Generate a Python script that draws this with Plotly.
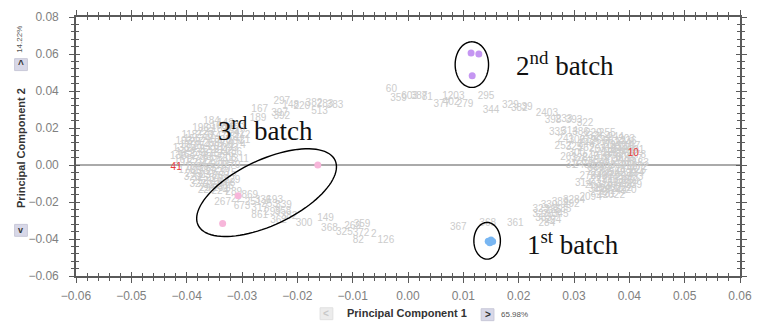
import numpy as np
import plotly.graph_objects as go

# ---- figure geometry -------------------------------------------------------
W, H = 762, 322
MARGIN = dict(l=76, r=10, t=15, b=46)
X_RANGE = [-0.06, 0.06]
Y_RANGE = [-0.06, 0.08]
PX_PER_X = (W - MARGIN["l"] - MARGIN["r"]) / (X_RANGE[1] - X_RANGE[0])
PX_PER_Y = (H - MARGIN["t"] - MARGIN["b"]) / (Y_RANGE[1] - Y_RANGE[0])

# ---- sample scores (PC1, PC2, sample id) ------------------------------------
left_cluster = [
    (-0.0355, 0.0235, "184"), (-0.0330, 0.0225, "142"), (-0.0310, 0.0215, "263"),
    (-0.0309, 0.0171, "742"), (-0.0375, 0.0195, "196"), (-0.0350, 0.0190, "218"),
    (-0.0322, 0.0185, "275"), (-0.0300, 0.0160, "212"), (-0.0395, 0.0160, "118"),
    (-0.0368, 0.0158, "230"), (-0.0343, 0.0152, "147"), (-0.0318, 0.0148, "331"),
    (-0.0295, 0.0135, "21"), (-0.0405, 0.0125, "193"), (-0.0380, 0.0122, "287"),
    (-0.0355, 0.0118, "258"), (-0.0330, 0.0112, "306"), (-0.0308, 0.0105, "174"),
    (-0.0410, 0.0090, "135"), (-0.0387, 0.0085, "249"), (-0.0362, 0.0080, "322"),
    (-0.0338, 0.0076, "211"), (-0.0315, 0.0070, "286"), (-0.0415, 0.0045, "136"),
    (-0.0400, 0.0050, "163"), (-0.0375, 0.0045, "238"), (-0.0350, 0.0040, "357"),
    (-0.0325, 0.0035, "205"), (-0.0302, 0.0028, "311"), (-0.0395, 0.0010, "152"),
    (-0.0368, 0.0005, "244"), (-0.0342, 0.0000, "219"), (-0.0318, -0.0005, "270"),
    (-0.0400, -0.0030, "176"), (-0.0375, -0.0035, "298"), (-0.0350, -0.0040, "262"),
    (-0.0325, -0.0045, "315"), (-0.0390, -0.0070, "320"), (-0.0365, -0.0075, "255"),
    (-0.0340, -0.0080, "203"), (-0.0318, -0.0085, "229"), (-0.0380, -0.0105, "327"),
    (-0.0355, -0.0110, "312"), (-0.0330, -0.0115, "266"), (-0.0365, -0.0140, "226"),
    (-0.0340, -0.0145, "224"), (-0.0315, -0.0150, "289"),
    (-0.0390, 0.0140, "155"), (-0.0362, 0.0138, "240"), (-0.0335, 0.0132, "309"),
    (-0.0312, 0.0125, "281"), (-0.0398, 0.0105, "170"), (-0.0372, 0.0100, "254"),
    (-0.0346, 0.0096, "201"), (-0.0322, 0.0090, "293"), (-0.0405, 0.0068, "145"),
    (-0.0380, 0.0064, "233"), (-0.0356, 0.0060, "318"), (-0.0330, 0.0055, "246"),
    (-0.0408, 0.0025, "161"), (-0.0382, 0.0022, "279"), (-0.0356, 0.0020, "227"),
    (-0.0330, 0.0015, "304"), (-0.0388, -0.0012, "188"), (-0.0362, -0.0018, "265"),
    (-0.0336, -0.0022, "210"), (-0.0388, -0.0050, "299"), (-0.0362, -0.0056, "237"),
    (-0.0338, -0.0060, "283"), (-0.0376, -0.0090, "252"), (-0.0350, -0.0095, "316"),
    (-0.0327, -0.0098, "208"), (-0.0362, -0.0125, "291"), (-0.0338, -0.0128, "231"),
    (-0.0342, 0.0210, "168"), (-0.0365, 0.0175, "223"), (-0.0318, 0.0200, "257"),
]

lower_left_arm = [
    (-0.0335, -0.0200, "267"), (-0.0310, -0.0185, "22"), (-0.0286, -0.0166, "869"),
    (-0.0300, -0.0225, "673"), (-0.0280, -0.0205, "251"), (-0.0262, -0.0190, "336"),
    (-0.0241, -0.0193, "193"), (-0.0268, -0.0235, "317"), (-0.0250, -0.0215, "253"),
    (-0.0225, -0.0218, "339"), (-0.0268, -0.0275, "861"), (-0.0245, -0.0255, "299"),
    (-0.0226, -0.0250, "358"), (-0.0234, -0.0300, "362"), (-0.0215, -0.0280, "382"),
]

lower_middle = [
    (-0.0188, -0.0316, "300"), (-0.0149, -0.0289, "149"), (-0.0142, -0.0343, "368"),
    (-0.0115, -0.0365, "325"), (-0.0100, -0.0330, "269"), (-0.0083, -0.0321, "359"),
    (-0.0085, -0.0372, "372"), (-0.0062, -0.0375, "2"), (-0.0090, -0.0407, "82"),
    (-0.0040, -0.0407, "126"),
]

upper_arc = [
    (-0.0268, 0.0300, "167"), (-0.0271, 0.0252, "189"), (-0.0228, 0.0345, "297"),
    (-0.0212, 0.0322, "148"), (-0.0192, 0.0318, "220"), (-0.0170, 0.0330, "382"),
    (-0.0150, 0.0325, "283"), (-0.0132, 0.0320, "383"), (-0.0160, 0.0290, "513"),
    (-0.0232, 0.0280, "397"), (-0.0228, 0.0262, "392"),
    (-0.0030, 0.0407, "60"), (-0.0017, 0.0360, "359"), (0.0003, 0.0372, "603"),
    (0.0020, 0.0372, "387"), (0.0035, 0.0365, "81"), (0.0061, 0.0327, "377"),
    (0.0082, 0.0368, "1203"), (0.0078, 0.0340, "402"), (0.0103, 0.0327, "279"),
    (0.0141, 0.0370, "295"), (0.0150, 0.0295, "344"), (0.0185, 0.0321, "329"),
    (0.0201, 0.0305, "382"), (0.0215, 0.0310, "39"), (0.0251, 0.0279, "2403"),
]

right_cluster = [
    (0.0262, 0.0240, "398"), (0.0282, 0.0245, "233"), (0.0300, 0.0238, "393"),
    (0.0320, 0.0225, "322"), (0.0270, 0.0178, "335"), (0.0292, 0.0182, "314"),
    (0.0312, 0.0175, "386"), (0.0335, 0.0172, "229"), (0.0360, 0.0170, "255"),
    (0.0285, 0.0140, "241"), (0.0305, 0.0135, "306"), (0.0325, 0.0130, "219"),
    (0.0345, 0.0128, "266"), (0.0368, 0.0125, "311"), (0.0388, 0.0118, "274"),
    (0.0375, 0.0150, "244"), (0.0395, 0.0140, "203"), (0.0280, 0.0098, "252"),
    (0.0300, 0.0092, "325"), (0.0322, 0.0090, "262"), (0.0342, 0.0085, "207"),
    (0.0362, 0.0082, "318"), (0.0382, 0.0078, "243"), (0.0400, 0.0072, "199"),
    (0.0380, 0.0100, "332"), (0.0405, 0.0100, "197"), (0.0290, 0.0040, "261"),
    (0.0310, 0.0035, "328"), (0.0330, 0.0040, "245"), (0.0350, 0.0045, "213"),
    (0.0370, 0.0040, "276"), (0.0390, 0.0035, "301"), (0.0408, 0.0030, "187"),
    (0.0415, 0.0050, "178"), (0.0375, 0.0060, "289"), (0.0355, 0.0065, "212"),
    (0.0295, 0.0000, "31"), (0.0318, -0.0002, "2432"), (0.0340, 0.0005, "296"),
    (0.0360, 0.0000, "234"), (0.0380, -0.0005, "319"), (0.0400, -0.0008, "268"),
    (0.0395, 0.0015, "238"), (0.0375, -0.0025, "271"), (0.0340, -0.0020, "309"),
    (0.0415, -0.0030, "226"), (0.0338, -0.0040, "227"), (0.0358, -0.0038, "305"),
    (0.0378, -0.0045, "248"), (0.0398, -0.0048, "290"), (0.0355, -0.0060, "320"),
    (0.0410, -0.0065, "303"), (0.0317, -0.0102, "314"), (0.0345, -0.0085, "273"),
    (0.0365, -0.0080, "216"), (0.0385, -0.0085, "330"), (0.0402, -0.0090, "259"),
    (0.0355, -0.0105, "315"), (0.0395, -0.0105, "258"), (0.0350, -0.0125, "284"),
    (0.0370, -0.0120, "308"), (0.0390, -0.0125, "222"), (0.0380, -0.0145, "249"),
    (0.0345, -0.0150, "252"), (0.0360, -0.0160, "281"), (0.0372, -0.0166, "2022"),
    (0.0352, 0.0150, "264"), (0.0398, 0.0125, "236"), (0.0370, 0.0105, "204"),
    (0.0392, 0.0095, "310"), (0.0352, 0.0105, "277"), (0.0412, 0.0080, "191"),
    (0.0365, 0.0062, "251"), (0.0395, 0.0055, "286"), (0.0345, 0.0025, "217"),
    (0.0365, 0.0020, "302"), (0.0385, 0.0015, "256"), (0.0420, 0.0010, "183"),
    (0.0350, -0.0015, "295"), (0.0390, -0.0025, "214"), (0.0418, -0.0015, "272"),
    (0.0345, -0.0060, "240"), (0.0368, -0.0058, "326"), (0.0390, -0.0065, "209"),
    (0.0412, -0.0045, "284"), (0.0335, -0.0110, "267"), (0.0375, -0.0100, "317"),
    (0.0408, -0.0110, "239"), (0.0362, -0.0135, "293"), (0.0398, -0.0140, "220"),
    (0.0340, -0.0130, "311"), (0.0322, 0.0110, "246"), (0.0305, 0.0060, "300"),
    (0.0318, 0.0020, "261"), (0.0325, -0.0060, "278"), (0.0330, 0.0155, "232"),
]

lower_right_arm = [
    (0.0330, -0.0175, "2094"), (0.0300, -0.0190, "3284"), (0.0275, -0.0205, "389"),
    (0.0295, -0.0215, "292"), (0.0255, -0.0220, "330"), (0.0240, -0.0240, "323"),
    (0.0262, -0.0245, "285"), (0.0280, -0.0240, "385"), (0.0235, -0.0265, "32"),
    (0.0258, -0.0270, "283"), (0.0275, -0.0265, "345"), (0.0245, -0.0290, "383"),
    (0.0262, -0.0300, "294"), (0.0251, -0.0316, "284"), (0.0194, -0.0316, "361"),
    (0.0091, -0.0337, "367"), (0.0144, -0.0316, "368"),
]

# highlighted outlier ids
outlier_pc1 = [-0.0419, 0.0407]
outlier_pc2 = [-0.0016, 0.0064]
outlier_id = ["41", "10"]

# batch reference samples
batch1_pc1 = [0.0145, 0.0150, 0.0148, 0.0153]
batch1_pc2 = [-0.0412, -0.0405, -0.0420, -0.0413]
batch2_pc1 = [0.0114, 0.0128, 0.0116]
batch2_pc2 = [0.0605, 0.0600, 0.0482]
batch3_pc1 = [-0.0163, -0.0307, -0.0335]
batch3_pc2 = [0.0000, -0.0166, -0.0316]

groups = [left_cluster, lower_left_arm, lower_middle, upper_arc,
          right_cluster, lower_right_arm]
all_pts = [p for g in groups for p in g]
pc1 = [p[0] for p in all_pts]
pc2 = [p[1] for p in all_pts]
ids = [p[2] for p in all_pts]

fig = go.Figure()

fig.add_trace(go.Scatter(
    x=pc1, y=pc2, text=ids, mode="text",
    textfont=dict(family="Liberation Sans, Arial", size=10, color="#cccccc"),
    hoverinfo="skip", showlegend=False))

fig.add_trace(go.Scatter(
    x=outlier_pc1, y=outlier_pc2, text=outlier_id, mode="text",
    textfont=dict(family="Liberation Sans, Arial", size=10, color="#e83c3c"),
    hoverinfo="skip", showlegend=False))

for xs, ys, col in [(batch1_pc1, batch1_pc2, "#78b6f2"),
                    (batch2_pc1, batch2_pc2, "#c596f2"),
                    (batch3_pc1, batch3_pc2, "#f7b6da")]:
    fig.add_trace(go.Scatter(x=xs, y=ys, mode="markers",
                             marker=dict(size=7, color=col, line=dict(width=0)),
                             hoverinfo="skip", showlegend=False))

# invisible trace that carries the overlay axes (inward tick marks)
fig.add_trace(go.Scatter(x=[None], y=[None], xaxis="x2", yaxis="y2",
                         showlegend=False, hoverinfo="skip"))


def ellipse_path(cx, cy, a_px, b_px, deg):
    t = np.linspace(0, 2 * np.pi, 97)
    th = np.radians(deg)
    dx = a_px * np.cos(t) * np.cos(th) - b_px * np.sin(t) * np.sin(th)
    dy = a_px * np.cos(t) * np.sin(th) + b_px * np.sin(t) * np.cos(th)
    xs = cx + dx / PX_PER_X
    ys = cy + dy / PX_PER_Y
    return "M " + " L ".join(f"{x:.6f},{y:.6f}" for x, y in zip(xs, ys)) + " Z"


ring = dict(color="black", width=1.4)
shapes = [
    dict(type="path", xref="x", yref="y", line=ring,
         path=ellipse_path(0.01154, 0.05427, 17, 23, 0)),
    dict(type="path", xref="x", yref="y", line=ring,
         path=ellipse_path(0.01430, -0.04096, 13.5, 18.5, 0)),
    dict(type="path", xref="x", yref="y", line=ring,
         path=ellipse_path(-0.02556, -0.01494, 77, 33, 25)),
]

# small navigation buttons next to the axis titles (paper coordinates)
PW = W - MARGIN["l"] - MARGIN["r"]
PH = H - MARGIN["t"] - MARGIN["b"]


def px2paper(px, py):
    return (px - MARGIN["l"]) / PW, (H - MARGIN["b"] - py) / PH


def button(cx, cy, fill, line_col):
    x0, y0 = px2paper(cx - 6.5, cy + 6)
    x1, y1 = px2paper(cx + 6.5, cy - 6)
    return dict(type="rect", xref="paper", yref="paper", x0=x0, y0=y0,
                x1=x1, y1=y1, fillcolor=fill, line=dict(color=line_col, width=1),
                layer="above")


shapes += [button(331, 314, "#ececec", "#e0e0e0"),
           button(495, 315, "#d8d8e8", "#c8c8d8"),
           button(20, 63, "#d8d8e8", "#c8c8d8"),
           button(20, 230, "#d8d8e8", "#c8c8d8")]


def note(px, py, text, size, color="#333333", bold=False, angle=0,
         family="Liberation Sans, Arial"):
    x, y = px2paper(px, py)
    if bold:
        text = f"<b>{text}</b>"
    return dict(x=x, y=y, xref="paper", yref="paper", text=text, showarrow=False,
                textangle=angle, font=dict(family=family, size=size, color=color),
                xanchor="center", yanchor="middle")


serif = "Liberation Serif, Times New Roman, serif"
annotations = [
    dict(x=0.0284, y=0.0548, xref="x", yref="y", text="2<sup>nd</sup> batch",
         showarrow=False, font=dict(family=serif, size=27, color="#111111")),
    dict(x=-0.0258, y=0.0197, xref="x", yref="y", text="3<sup>rd</sup> batch",
         showarrow=False, font=dict(family=serif, size=27, color="#111111")),
    dict(x=0.0298, y=-0.0420, xref="x", yref="y", text="1<sup>st</sup> batch",
         showarrow=False, font=dict(family=serif, size=27, color="#111111")),
    note(413, 313, "Principal Component 1", 11, bold=True),
    note(20, 147, "Principal Component 2", 11, bold=True, angle=-90),
    note(522, 315, "65.98%", 8, color="#555555"),
    note(19, 38, "14.22%", 8, color="#555555", angle=-90),
    note(331, 314, "&lt;", 10, color="#c8c8c8", bold=True),
    note(495, 315, "&gt;", 10, color="#333333", bold=True),
    note(20, 63, "^", 10, color="#333333", bold=True),
    note(20, 230, "v", 9, color="#333333", bold=True),
]

axis_col = "#5a5a5a"
common = dict(showgrid=False, showline=True, linecolor=axis_col, linewidth=1.6,
              mirror="allticks", ticks="outside", ticklen=5, tickwidth=1.4,
              tickcolor=axis_col, tickformat=".2f",
              tickfont=dict(family="Liberation Sans, Arial", size=12, color="#808080"))
inner = dict(showgrid=False, showline=False, zeroline=False, showticklabels=False,
             mirror="ticks", ticks="inside", ticklen=4, tickwidth=1.4, tickcolor=axis_col)

fig.update_layout(
    width=W, height=H, margin=MARGIN,
    paper_bgcolor="white", plot_bgcolor="white",
    xaxis=dict(range=X_RANGE, dtick=0.01, zeroline=False,
               minor=dict(dtick=0.002, ticks="outside", ticklen=3, tickcolor=axis_col,
                          tickwidth=1.2),
               ticklabelstandoff=3, **common),
    yaxis=dict(range=Y_RANGE, dtick=0.02, zeroline=True, zerolinecolor="#aaaaaa",
               zerolinewidth=2,
               minor=dict(dtick=0.004, ticks="outside", ticklen=3, tickcolor=axis_col,
                          tickwidth=1.2),
               ticklabelstandoff=8, **common),
    xaxis2=dict(range=X_RANGE, dtick=0.01, overlaying="x", anchor="y2",
                minor=dict(dtick=0.002, ticks="inside", ticklen=3, tickcolor=axis_col,
                           tickwidth=1.2), **inner),
    yaxis2=dict(range=Y_RANGE, dtick=0.02, overlaying="y", anchor="x2",
                minor=dict(dtick=0.004, ticks="inside", ticklen=3, tickcolor=axis_col,
                           tickwidth=1.2), **inner),
    shapes=shapes,
    annotations=annotations,
)

fig.write_html("out.html")
